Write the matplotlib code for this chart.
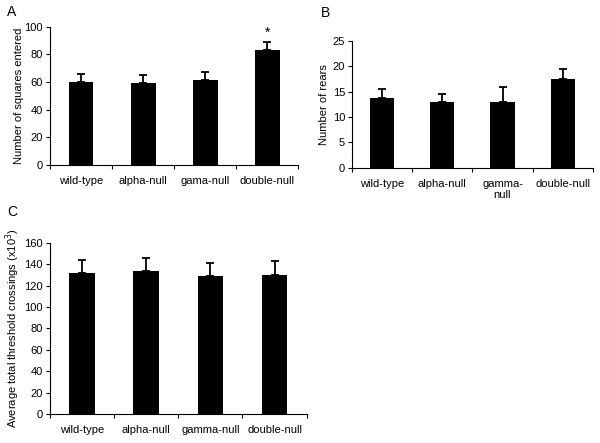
import matplotlib
matplotlib.use("Agg")
import matplotlib.pyplot as plt
from matplotlib.ticker import FixedLocator, NullFormatter

plt.rcParams["font.family"] = ["Liberation Sans", "DejaVu Sans"]
plt.rcParams["font.size"] = 8

# panel A - squares entered
labels_a = ["wild-type", "alpha-null", "gama-null", "double-null"]
squares = [60, 59.5, 61.5, 83.5]
squares_err = [5.5, 5.5, 5.5, 5.5]

# panel B - rears
labels_b = ["wild-type", "alpha-null", "gamma-\nnull", "double-null"]
rears = [13.7, 13.0, 12.9, 17.6]
rears_err = [1.9, 1.5, 3.0, 1.9]

# panel C - threshold crossings (x10^3)
labels_c = ["wild-type", "alpha-null", "gamma-null", "double-null"]
crossings = [131.5, 133.5, 128.5, 129.5]
crossings_err = [12.5, 12, 12.5, 13.5]

fig = plt.figure(figsize=(6, 4.43), dpi=100)


def bar_panel(rect, labels, vals, errs, ymax, ystep, ylabel, letter, letter_xy, lpad=3):
    ax = fig.add_axes(rect)
    x = range(len(vals))
    ax.bar(x, vals, width=0.4, color="black", zorder=2)
    ax.errorbar(x, vals, yerr=[[0] * len(errs), errs], fmt="none",
                ecolor="black", elinewidth=1.3, capsize=3, capthick=1.3, zorder=3)
    ax.set_xlim(-0.5, len(vals) - 0.5)
    ax.set_ylim(0, ymax)
    ax.set_yticks(range(0, ymax + 1, ystep))
    ax.xaxis.set_major_locator(FixedLocator([i - 0.5 for i in range(len(vals) + 1)]))
    ax.xaxis.set_major_formatter(NullFormatter())
    ax.set_xticks(list(x), labels, minor=True)
    ax.tick_params(axis="x", which="minor", length=0, pad=8)
    ax.tick_params(axis="x", which="major", length=3, direction="out")
    ax.tick_params(axis="y", length=3, direction="out", pad=2)
    for s in ["top", "right"]:
        ax.spines[s].set_visible(False)
    ax.set_ylabel(ylabel, fontsize=8, labelpad=lpad)
    fig.text(letter_xy[0], letter_xy[1], letter, fontsize=10, ha="left", va="center")
    return ax


axA = bar_panel([0.0833, 0.6275, 0.414, 0.3122], labels_a, squares, squares_err,
                100, 20, "Number of squares entered", "A", (0.012, 0.972), lpad=0.5)
axA.text(3, squares[3] + squares_err[3] + 1.5, "*", ha="center", va="bottom", fontsize=10)

bar_panel([0.5867, 0.6214, 0.4013, 0.286], labels_b, rears, rears_err,
          25, 5, "Number of rears", "B", (0.535, 0.97))

bar_panel([0.0833, 0.0648, 0.4277, 0.3874], labels_c, crossings, crossings_err,
          160, 20, "Average total threshold crossings (x10$^3$)", "C", (0.012, 0.522),
          lpad=2)

fig.savefig("out.png", dpi=100)
